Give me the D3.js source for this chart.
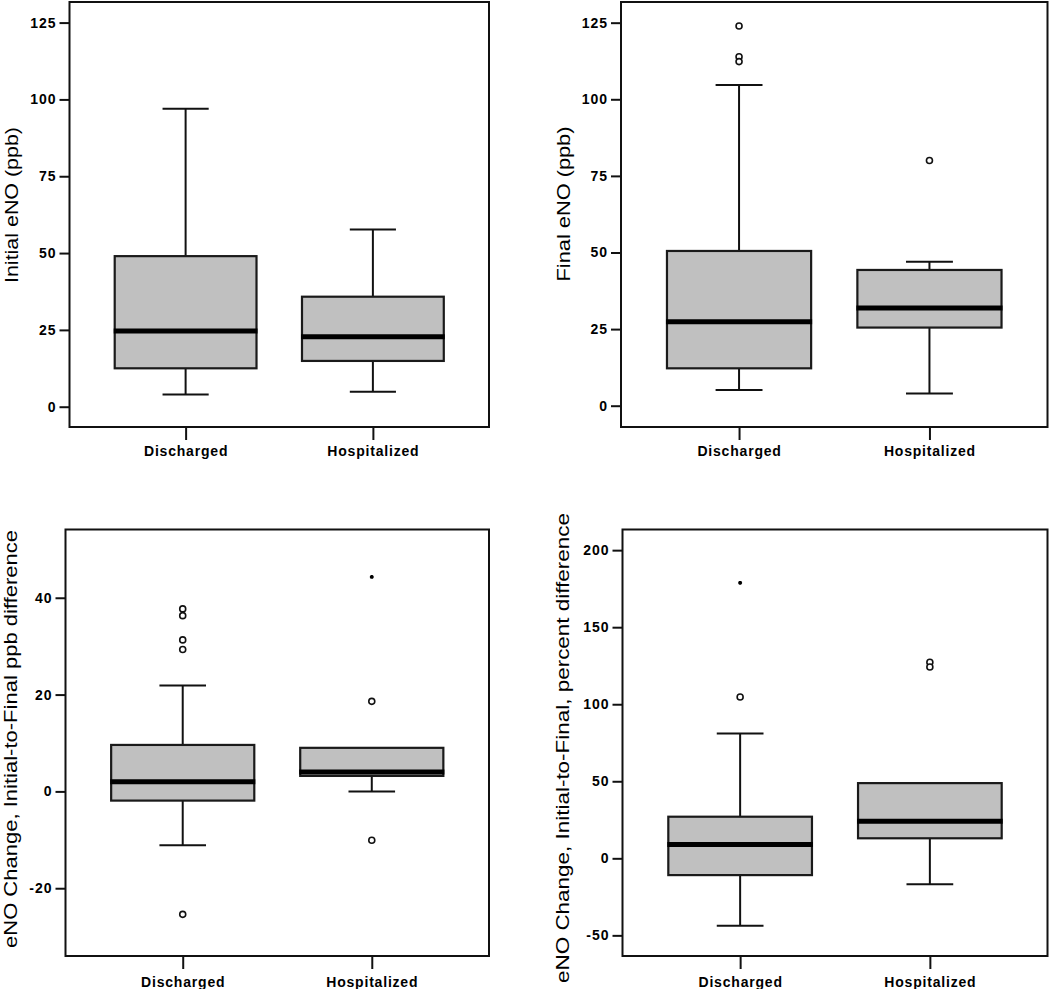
<!DOCTYPE html>
<html>
<head>
<meta charset="utf-8">
<script src="https://cdn.jsdelivr.net/npm/d3@7"></script>
<style>
  html, body { margin: 0; padding: 0; background: #fff; }
  svg { display: block; }
  text { font-family: Arial, "Liberation Sans", sans-serif; fill: #000; }
</style>
</head>
<body>
<svg id="chart" width="1050" height="989"></svg>
<script>
// ---------- data ----------
const groups = ["Discharged", "Hospitalized"];

// five-number summaries per group: [lower whisker, Q1, median, Q3, upper whisker]
const initialDischarged = [4.0, 12.5, 24.6, 49.0, 97.0];
const initialHospitalized = [4.9, 14.9, 22.8, 35.8, 57.7];
const initialOutliers = [[], []];
const initialExtremes = [[], []];
const initialTicks = [0, 25, 50, 75, 100, 125];

const finalDischarged = [5.1, 12.2, 27.4, 50.5, 104.7];
const finalHospitalized = [4.0, 25.5, 31.9, 44.3, 47.0];
const finalOutliers = [[123.9, 113.9, 112.3], [80.0]];
const finalExtremes = [[], []];
const finalTicks = [0, 25, 50, 75, 100, 125];

const diffDischarged = [-11.1, -1.9, 2.0, 9.6, 21.9];
const diffHospitalized = [0.0, 3.2, 4.0, 9.0, 9.0];
const diffOutliers = [[37.7, 36.3, 31.3, 29.3, -25.4], [18.6, -10.1]];
const diffExtremes = [[], [44.3]];
const diffTicks = [-20, 0, 20, 40];

const pctDischarged = [-43.8, -10.9, 8.9, 27.0, 81.0];
const pctHospitalized = [-16.9, 13.0, 24.1, 48.8, 48.8];
const pctOutliers = [[104.7], [127.2, 124.2]];
const pctExtremes = [[178.8], []];
const pctTicks = [-50, 0, 50, 100, 150, 200];

const yTitles = [
  "Initial eNO (ppb)",
  "Final eNO (ppb)",
  "eNO Change, Initial-to-Final ppb difference",
  "eNO Change, Initial-to-Final, percent difference"
];

// ---------- layout ----------
const panels = [
  { stats: [initialDischarged, initialHospitalized], out: initialOutliers, ext: initialExtremes, ticks: initialTicks,
    title: yTitles[0], x0: 69.5, x1: 489, y0: 2, y1: 427, domain: [-6.6, 131.7],
    titleX: 17.5, titleY: 205, titleLen: 156, xLabY: 456 },
  { stats: [finalDischarged, finalHospitalized], out: finalOutliers, ext: finalExtremes, ticks: finalTicks,
    title: yTitles[1], x0: 621, x1: 1047.5, y0: 2, y1: 427, domain: [-6.95, 131.75],
    titleX: 570, titleY: 204, titleLen: 155, xLabY: 456 },
  { stats: [diffDischarged, diffHospitalized], out: diffOutliers, ext: diffExtremes, ticks: diffTicks,
    title: yTitles[2], x0: 65.5, x1: 489, y0: 529.5, y1: 956, domain: [-34.0, 54.1],
    titleX: 17, titleY: 739, titleLen: 418, xLabY: 986.5 },
  { stats: [pctDischarged, pctHospitalized], out: pctOutliers, ext: pctExtremes, ticks: pctTicks,
    title: yTitles[3], x0: 622.5, x1: 1047.5, y0: 529.5, y1: 956, domain: [-63.4, 213.4],
    titleX: 569, titleY: 748, titleLen: 470, xLabY: 986.5 }
];

const svg = d3.select("#chart");
const hyphenFormat = d => String(d).replace("\u2212", "-");

panels.forEach(p => {
  const g = svg.append("g");
  const x = d3.scalePoint().domain(groups).range([p.x0, p.x1]).padding(0.62);
  const y = d3.scaleLinear().domain(p.domain).range([p.y1, p.y0]);
  const W = p.x1 - p.x0;
  const boxW = W * 0.338;
  const capW = W * 0.11;

  // y axis (ticks + labels)
  const yAxis = d3.axisLeft(y).tickValues(p.ticks).tickSize(10).tickPadding(3).tickFormat(hyphenFormat);
  const ya = g.append("g").attr("transform", `translate(${p.x0},0)`).call(yAxis);
  ya.select(".domain").remove();
  ya.selectAll(".tick line").attr("stroke", "#111").attr("stroke-width", 2);
  ya.selectAll(".tick text")
    .attr("font-size", 14).attr("font-weight", "bold").attr("letter-spacing", "1px")
    .attr("font-family", "Arial, 'Liberation Sans', sans-serif").attr("fill", "#000");

  // x axis ticks + labels
  const xAxis = d3.axisBottom(x).tickSize(13).tickPadding(0).tickFormat(d => d);
  const xa = g.append("g").attr("transform", `translate(0,${p.y1})`).call(xAxis);
  xa.select(".domain").remove();
  xa.selectAll(".tick line").attr("stroke", "#111").attr("stroke-width", 2);
  xa.selectAll(".tick text")
    .attr("y", null).attr("dy", null)
    .attr("transform", `translate(0,${p.xLabY - p.y1})`)
    .attr("font-size", 14).attr("font-weight", "bold").attr("letter-spacing", "0.8px")
    .attr("font-family", "Arial, 'Liberation Sans', sans-serif").attr("fill", "#000");

  // boxes
  p.stats.forEach((s, i) => {
    const cx = x(groups[i]);
    const [lo, q1, med, q3, hi] = s;
    const bg = g.append("g");
    // whiskers
    bg.append("line").attr("x1", cx).attr("x2", cx).attr("y1", y(q3)).attr("y2", y(hi))
      .attr("stroke", "#111").attr("stroke-width", 2);
    bg.append("line").attr("x1", cx).attr("x2", cx).attr("y1", y(q1)).attr("y2", y(lo))
      .attr("stroke", "#111").attr("stroke-width", 2);
    if (hi !== q3) bg.append("line").attr("x1", cx - capW / 2).attr("x2", cx + capW / 2).attr("y1", y(hi)).attr("y2", y(hi))
      .attr("stroke", "#111").attr("stroke-width", 2);
    if (lo !== q1) bg.append("line").attr("x1", cx - capW / 2).attr("x2", cx + capW / 2).attr("y1", y(lo)).attr("y2", y(lo))
      .attr("stroke", "#111").attr("stroke-width", 2);
    // box
    bg.append("rect").attr("x", cx - boxW / 2).attr("width", boxW)
      .attr("y", y(q3)).attr("height", y(q1) - y(q3))
      .attr("fill", "#c0c0c0").attr("stroke", "#1a1a1a").attr("stroke-width", 2.2);
    // median
    bg.append("line").attr("x1", cx - boxW / 2 - 1).attr("x2", cx + boxW / 2 + 1)
      .attr("y1", y(med)).attr("y2", y(med)).attr("stroke", "#000").attr("stroke-width", 5);
    // outliers
    bg.selectAll("circle.out").data(p.out[i]).enter().append("circle")
      .attr("class", "out").attr("cx", cx).attr("cy", d => y(d)).attr("r", 3)
      .attr("fill", "#fff").attr("stroke", "#111").attr("stroke-width", 1.6);
    // extremes
    bg.selectAll("path.ext").data(p.ext[i]).enter().append("path")
      .attr("class", "ext")
      .attr("d", d3.symbol().type(d3.symbolAsterisk).size(10))
      .attr("transform", d => `translate(${cx},${y(d)})`)
      .attr("stroke", "#000").attr("stroke-width", 1.8).attr("fill", "none");
  });

  // frame
  g.append("rect").attr("x", p.x0).attr("y", p.y0).attr("width", W).attr("height", p.y1 - p.y0)
    .attr("fill", "none").attr("stroke", "#111").attr("stroke-width", 2);

  // y title
  g.append("text")
    .attr("transform", `translate(${p.titleX},${p.titleY}) rotate(-90)`)
    .attr("text-anchor", "middle")
    .attr("font-size", 18.5)
    .attr("textLength", p.titleLen).attr("lengthAdjust", "spacingAndGlyphs")
    .text(p.title);
});
</script>
</body>
</html>
